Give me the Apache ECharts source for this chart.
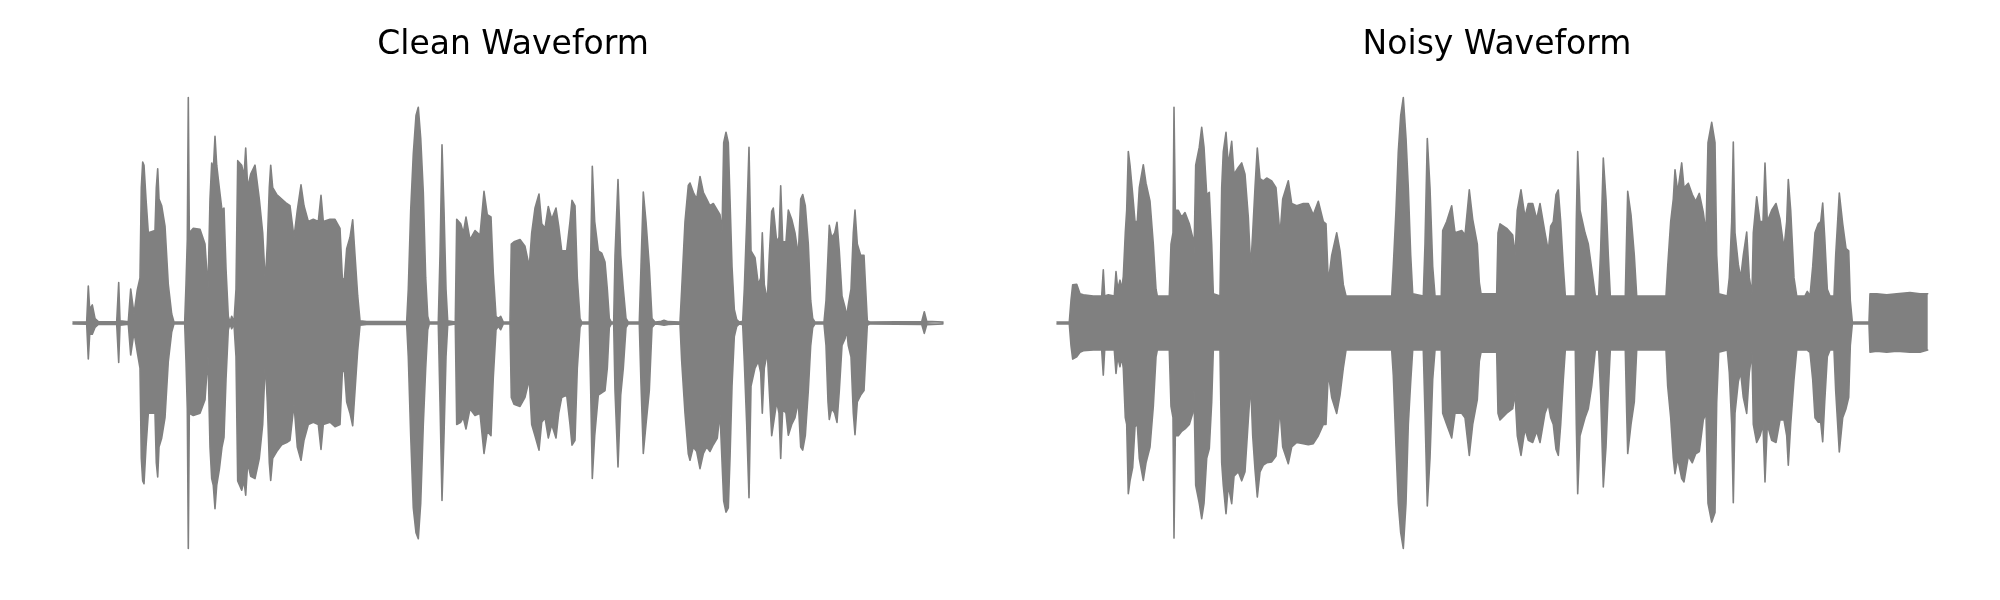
<!DOCTYPE html>
<html>
<head>
<meta charset="utf-8">
<script src="https://cdn.jsdelivr.net/npm/echarts@6/dist/echarts.min.js"></script>
<style>html,body{margin:0;padding:0;background:#fff}#c{width:2000px;height:600px}</style>
</head>
<body>
<div id="c"></div>
<script>
// Envelope of each waveform (time in s, amplitude normalised to peak)
const cleanTime = [0.00,0.137,0.143,0.153,0.167,0.193,0.22,0.253,0.437,0.457,0.47,0.553,0.577,0.61,0.643,0.67,0.683,0.697,0.71,0.73,0.753,0.82,0.833,0.847,0.86,0.887,0.92,0.953,0.987,1.01,1.117,1.13,1.143,1.153,1.163,1.203,1.27,1.32,1.35,1.37,1.387,1.403,1.42,1.437,1.463,1.49,1.51,1.53,1.553,1.57,1.587,1.61,1.63,1.647,1.687,1.71,1.727,1.747,1.777,1.82,1.863,1.897,1.923,1.943,1.963,1.977,1.997,2.037,2.087,2.137,2.17,2.21,2.243,2.28,2.31,2.353,2.403,2.453,2.48,2.503,2.57,2.62,2.67,2.693,2.713,2.737,2.77,2.797,2.82,2.847,2.87,2.937,3.337,3.353,3.377,3.403,3.43,3.453,3.477,3.503,3.527,3.547,3.563,3.653,3.67,3.69,3.71,3.73,3.747,3.823,3.837,3.877,3.903,3.93,3.97,4.02,4.07,4.11,4.143,4.18,4.203,4.23,4.253,4.277,4.303,4.37,4.383,4.41,4.47,4.52,4.563,4.587,4.62,4.66,4.687,4.72,4.753,4.787,4.83,4.857,4.887,4.937,4.97,4.99,5.02,5.043,5.07,5.087,5.163,5.177,5.193,5.217,5.253,5.287,5.32,5.343,5.363,5.383,5.407,5.42,5.45,5.477,5.503,5.53,5.553,5.663,5.68,5.703,5.73,5.763,5.79,5.82,5.87,5.91,5.953,6.07,6.087,6.12,6.153,6.17,6.203,6.237,6.27,6.303,6.337,6.37,6.403,6.443,6.47,6.49,6.507,6.53,6.553,6.57,6.59,6.613,6.637,6.663,6.697,6.713,6.737,6.76,6.78,6.82,6.853,6.877,6.893,6.913,6.943,6.963,6.987,7.003,7.037,7.06,7.077,7.097,7.13,7.153,7.187,7.22,7.253,7.277,7.297,7.323,7.353,7.377,7.397,7.42,7.51,7.53,7.55,7.563,7.587,7.617,7.64,7.663,7.69,7.72,7.737,7.753,7.78,7.803,7.82,7.843,7.877,7.91,7.927,7.943,7.97,8.487,8.513,8.537,8.70];
const cleanUpper = [0.004,0.005,0.01,0.164,0.06,0.08,0.02,0.006,0.005,0.179,0.01,0.005,0.151,0.04,0.147,0.20,0.60,0.714,0.70,0.55,0.40,0.41,0.60,0.684,0.55,0.52,0.43,0.17,0.04,0.004,0.004,0.17,0.37,1.00,0.40,0.42,0.416,0.35,0.15,0.55,0.71,0.68,0.828,0.70,0.60,0.50,0.51,0.24,0.03,0.004,0.03,0.006,0.15,0.72,0.70,0.65,0.776,0.60,0.66,0.70,0.55,0.40,0.18,0.35,0.60,0.70,0.60,0.57,0.55,0.53,0.52,0.38,0.50,0.613,0.52,0.45,0.46,0.45,0.566,0.45,0.46,0.46,0.42,0.20,0.19,0.33,0.38,0.458,0.30,0.12,0.01,0.006,0.006,0.15,0.50,0.75,0.92,0.957,0.82,0.58,0.20,0.03,0.004,0.004,0.30,0.79,0.50,0.15,0.01,0.004,0.46,0.44,0.40,0.47,0.37,0.41,0.39,0.584,0.48,0.47,0.22,0.03,0.02,0.03,0.004,0.004,0.35,0.36,0.37,0.34,0.25,0.40,0.51,0.572,0.44,0.42,0.517,0.46,0.51,0.43,0.32,0.32,0.45,0.544,0.52,0.20,0.02,0.004,0.004,0.30,0.695,0.45,0.32,0.31,0.27,0.15,0.02,0.004,0.004,0.30,0.636,0.30,0.15,0.02,0.004,0.004,0.25,0.581,0.45,0.25,0.02,0.004,0.006,0.012,0.006,0.004,0.15,0.45,0.61,0.621,0.58,0.55,0.65,0.58,0.55,0.52,0.53,0.50,0.48,0.40,0.80,0.846,0.80,0.55,0.25,0.06,0.015,0.004,0.008,0.15,0.45,0.779,0.32,0.29,0.17,0.20,0.40,0.17,0.10,0.30,0.495,0.51,0.36,0.38,0.609,0.36,0.36,0.501,0.46,0.40,0.30,0.55,0.57,0.52,0.35,0.10,0.02,0.004,0.004,0.10,0.30,0.433,0.38,0.40,0.447,0.32,0.12,0.07,0.03,0.08,0.15,0.40,0.501,0.35,0.30,0.30,0.15,0.01,0.004,0.006,0.05,0.008,0.004];
const cleanLower = [-0.004,-0.005,-0.01,-0.160,-0.05,-0.05,-0.02,-0.006,-0.005,-0.175,-0.01,-0.005,-0.142,-0.04,-0.13,-0.20,-0.60,-0.70,-0.713,-0.55,-0.40,-0.40,-0.62,-0.683,-0.55,-0.51,-0.42,-0.17,-0.04,-0.004,-0.004,-0.17,-0.38,-1.00,-0.40,-0.41,-0.40,-0.34,-0.15,-0.55,-0.69,-0.72,-0.824,-0.72,-0.65,-0.55,-0.507,-0.25,-0.03,-0.004,-0.025,-0.006,-0.15,-0.70,-0.742,-0.70,-0.764,-0.62,-0.68,-0.69,-0.60,-0.45,-0.17,-0.35,-0.62,-0.698,-0.60,-0.57,-0.54,-0.53,-0.52,-0.36,-0.55,-0.609,-0.52,-0.45,-0.44,-0.45,-0.561,-0.45,-0.44,-0.46,-0.45,-0.22,-0.20,-0.35,-0.40,-0.456,-0.30,-0.12,-0.01,-0.006,-0.006,-0.15,-0.50,-0.82,-0.93,-0.957,-0.80,-0.45,-0.20,-0.03,-0.004,-0.004,-0.35,-0.787,-0.50,-0.15,-0.01,-0.004,-0.45,-0.44,-0.42,-0.47,-0.38,-0.41,-0.40,-0.579,-0.48,-0.50,-0.24,-0.03,-0.015,-0.03,-0.004,-0.004,-0.33,-0.36,-0.37,-0.33,-0.25,-0.45,-0.50,-0.564,-0.44,-0.42,-0.51,-0.45,-0.51,-0.40,-0.33,-0.32,-0.45,-0.542,-0.52,-0.20,-0.02,-0.004,-0.004,-0.30,-0.69,-0.50,-0.32,-0.31,-0.30,-0.20,-0.02,-0.004,-0.004,-0.30,-0.639,-0.32,-0.20,-0.02,-0.004,-0.004,-0.27,-0.579,-0.45,-0.30,-0.02,-0.004,-0.006,-0.01,-0.006,-0.004,-0.17,-0.40,-0.58,-0.609,-0.55,-0.57,-0.646,-0.58,-0.55,-0.57,-0.54,-0.51,-0.40,-0.40,-0.79,-0.839,-0.82,-0.60,-0.28,-0.06,-0.015,-0.004,-0.008,-0.17,-0.45,-0.775,-0.28,-0.20,-0.17,-0.22,-0.40,-0.20,-0.13,-0.30,-0.50,-0.50,-0.35,-0.40,-0.601,-0.38,-0.40,-0.498,-0.45,-0.42,-0.35,-0.55,-0.564,-0.50,-0.30,-0.10,-0.02,-0.004,-0.004,-0.10,-0.35,-0.428,-0.38,-0.40,-0.441,-0.30,-0.10,-0.07,-0.03,-0.10,-0.15,-0.40,-0.495,-0.35,-0.32,-0.30,-0.15,-0.01,-0.004,-0.006,-0.046,-0.008,-0.004];

const noisyTime = [0.00,0.123,0.14,0.157,0.197,0.23,0.263,0.363,0.447,0.463,0.477,0.513,0.573,0.59,0.607,0.63,0.647,0.663,0.683,0.697,0.713,0.73,0.757,0.78,0.803,0.823,0.863,0.89,0.93,0.963,0.99,1.003,1.123,1.14,1.16,1.17,1.183,1.213,1.247,1.28,1.323,1.357,1.37,1.387,1.423,1.447,1.47,1.497,1.523,1.547,1.563,1.63,1.647,1.663,1.69,1.713,1.747,1.77,1.813,1.847,1.88,1.913,1.937,1.957,1.98,2.003,2.03,2.063,2.097,2.147,2.19,2.23,2.257,2.313,2.347,2.397,2.463,2.513,2.563,2.613,2.663,2.69,2.713,2.747,2.797,2.83,2.863,2.89,3.347,3.363,3.39,3.413,3.437,3.463,3.49,3.513,3.537,3.557,3.663,3.68,3.703,3.73,3.757,3.78,3.843,3.857,3.897,3.947,3.98,4.047,4.08,4.123,4.157,4.203,4.223,4.24,4.397,4.41,4.43,4.497,4.557,4.58,4.603,4.64,4.68,4.713,4.757,4.797,4.83,4.88,4.913,4.937,4.963,4.99,5.013,5.037,5.063,5.083,5.183,5.193,5.207,5.23,5.28,5.313,5.347,5.383,5.417,5.437,5.463,5.49,5.513,5.533,5.683,5.697,5.707,5.74,5.773,5.797,6.09,6.107,6.137,6.163,6.18,6.207,6.247,6.27,6.313,6.353,6.387,6.423,6.463,6.49,6.51,6.547,6.58,6.597,6.617,6.703,6.723,6.747,6.763,6.78,6.813,6.837,6.863,6.897,6.923,6.95,6.963,6.997,7.03,7.06,7.08,7.103,7.147,7.19,7.23,7.27,7.297,7.313,7.337,7.37,7.397,7.48,7.503,7.53,7.557,7.58,7.613,7.637,7.657,7.677,7.703,7.73,7.77,7.787,7.823,7.857,7.89,7.917,7.933,7.953,8.12,8.13,8.197,8.297,8.397,8.53,8.63,8.707];
const noisyUpper = [0.004,0.004,0.10,0.17,0.172,0.13,0.125,0.12,0.12,0.236,0.12,0.125,0.12,0.228,0.15,0.19,0.15,0.206,0.40,0.50,0.761,0.70,0.57,0.45,0.45,0.60,0.702,0.62,0.54,0.35,0.15,0.12,0.12,0.35,0.40,0.957,0.50,0.50,0.47,0.49,0.44,0.38,0.30,0.70,0.78,0.868,0.78,0.57,0.58,0.35,0.13,0.12,0.60,0.76,0.846,0.70,0.806,0.66,0.69,0.71,0.66,0.47,0.24,0.40,0.60,0.776,0.64,0.63,0.643,0.63,0.60,0.39,0.55,0.631,0.53,0.52,0.53,0.53,0.48,0.54,0.45,0.44,0.18,0.30,0.40,0.32,0.17,0.12,0.12,0.25,0.50,0.76,0.92,1.00,0.82,0.60,0.30,0.13,0.12,0.35,0.818,0.60,0.25,0.12,0.12,0.41,0.45,0.52,0.40,0.41,0.39,0.591,0.46,0.35,0.18,0.13,0.13,0.40,0.44,0.42,0.39,0.30,0.50,0.591,0.47,0.53,0.53,0.46,0.53,0.40,0.32,0.43,0.45,0.57,0.59,0.45,0.25,0.12,0.12,0.45,0.761,0.50,0.40,0.35,0.24,0.12,0.12,0.33,0.732,0.55,0.30,0.12,0.12,0.40,0.584,0.48,0.30,0.12,0.12,0.25,0.45,0.55,0.68,0.58,0.71,0.60,0.62,0.57,0.54,0.575,0.49,0.40,0.80,0.89,0.80,0.30,0.13,0.12,0.20,0.45,0.803,0.40,0.26,0.20,0.30,0.403,0.20,0.13,0.40,0.56,0.45,0.45,0.71,0.45,0.50,0.53,0.46,0.33,0.45,0.636,0.50,0.20,0.12,0.12,0.14,0.12,0.25,0.40,0.44,0.45,0.532,0.38,0.15,0.12,0.12,0.30,0.576,0.44,0.33,0.32,0.10,0.004,0.004,0.13,0.13,0.125,0.13,0.135,0.13,0.13];
const noisyLower = [-0.004,-0.004,-0.10,-0.16,-0.15,-0.13,-0.123,-0.12,-0.12,-0.231,-0.12,-0.12,-0.12,-0.224,-0.15,-0.194,-0.15,-0.20,-0.42,-0.45,-0.757,-0.70,-0.64,-0.46,-0.45,-0.60,-0.698,-0.62,-0.55,-0.37,-0.15,-0.12,-0.12,-0.37,-0.42,-0.954,-0.50,-0.50,-0.48,-0.47,-0.45,-0.40,-0.30,-0.72,-0.80,-0.868,-0.80,-0.60,-0.557,-0.35,-0.12,-0.12,-0.62,-0.72,-0.846,-0.72,-0.801,-0.68,-0.66,-0.70,-0.66,-0.43,-0.27,-0.50,-0.65,-0.772,-0.66,-0.63,-0.62,-0.616,-0.59,-0.38,-0.55,-0.624,-0.55,-0.53,-0.535,-0.54,-0.535,-0.50,-0.45,-0.45,-0.22,-0.33,-0.401,-0.32,-0.20,-0.12,-0.12,-0.23,-0.55,-0.80,-0.93,-1.00,-0.80,-0.45,-0.26,-0.12,-0.12,-0.40,-0.812,-0.60,-0.25,-0.12,-0.12,-0.40,-0.45,-0.51,-0.40,-0.40,-0.42,-0.587,-0.45,-0.34,-0.17,-0.13,-0.13,-0.40,-0.43,-0.40,-0.38,-0.31,-0.50,-0.587,-0.47,-0.52,-0.53,-0.48,-0.53,-0.40,-0.36,-0.42,-0.45,-0.56,-0.587,-0.45,-0.25,-0.12,-0.12,-0.45,-0.757,-0.50,-0.42,-0.38,-0.28,-0.12,-0.12,-0.32,-0.727,-0.55,-0.30,-0.12,-0.12,-0.40,-0.579,-0.45,-0.35,-0.12,-0.12,-0.28,-0.42,-0.60,-0.668,-0.60,-0.69,-0.705,-0.59,-0.62,-0.58,-0.57,-0.43,-0.40,-0.80,-0.883,-0.84,-0.35,-0.13,-0.12,-0.22,-0.45,-0.797,-0.40,-0.26,-0.22,-0.33,-0.401,-0.22,-0.13,-0.45,-0.53,-0.50,-0.45,-0.705,-0.45,-0.52,-0.53,-0.43,-0.43,-0.50,-0.631,-0.45,-0.25,-0.12,-0.12,-0.12,-0.13,-0.25,-0.42,-0.44,-0.44,-0.527,-0.35,-0.15,-0.12,-0.12,-0.30,-0.572,-0.42,-0.38,-0.33,-0.10,-0.004,-0.004,-0.13,-0.125,-0.13,-0.125,-0.13,-0.13,-0.12];

const titles = ['Clean Waveform', 'Noisy Waveform'];

const zip = (t, v) => t.map((x, i) => [x, v[i]]);
const GREY = '#808080';
function env(idx, data) {
  return {
    type: 'line', xAxisIndex: idx, yAxisIndex: idx, data: data,
    showSymbol: false, symbol: 'none', clip: false, silent: true,
    lineStyle: { color: GREY, width: 1.6, join: 'round', cap: 'round' },
    areaStyle: { color: GREY, opacity: 1, origin: 0 },
    itemStyle: { color: GREY }
  };
}
const grids = [
  { left: 73, width: 870, top: 75, height: 496 },
  { left: 1057, width: 871, top: 75, height: 496 }
];
const titleStyle = { fontFamily: 'DejaVu Sans', fontSize: 33, fontWeight: 'normal', color: '#000' };
const chart = echarts.init(document.getElementById('c'), null, { renderer: 'canvas' });
chart.setOption({
  animation: false,
  backgroundColor: '#ffffff',
  title: [
    { text: titles[0], left: 508, top: 24, textAlign: 'center', textStyle: titleStyle },
    { text: titles[1], left: 1492, top: 24, textAlign: 'center', textStyle: titleStyle }
  ],
  grid: grids,
  xAxis: [0, 1].map(i => ({ type: 'value', gridIndex: i, min: 0, max: i === 0 ? 8.7 : 8.71, show: false })),
  yAxis: [0, 1].map(i => ({ type: 'value', gridIndex: i, min: -1.1, max: 1.1, show: false })),
  series: [
    env(0, zip(cleanTime, cleanUpper)), env(0, zip(cleanTime, cleanLower)),
    env(1, zip(noisyTime, noisyUpper)), env(1, zip(noisyTime, noisyLower))
  ]
});
</script>
</body>
</html>
